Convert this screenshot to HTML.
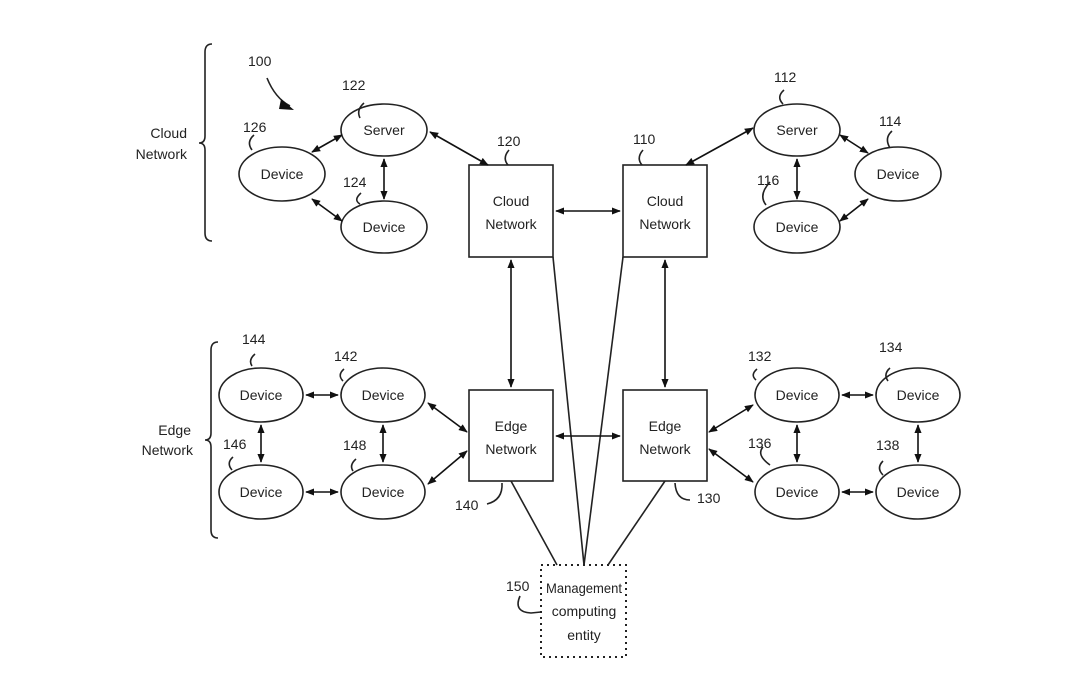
<!DOCTYPE html>
<html><head><meta charset="utf-8"><style>
html,body{margin:0;padding:0;background:#fff;}
svg{display:block}
text{font-family:"Liberation Sans","DejaVu Sans",sans-serif;font-size:14px;fill:#222;}
</style></head><body>
<svg width="1080" height="692" viewBox="0 0 1080 692" xmlns="http://www.w3.org/2000/svg">
<defs>
<marker id="a" viewBox="0 0 10 10" refX="9" refY="5" markerWidth="9" markerHeight="9" orient="auto-start-reverse" markerUnits="userSpaceOnUse"><path d="M0,1 L10,5 L0,9 Z" fill="#111"/></marker>
</defs>
<g fill="none" stroke="#222" stroke-width="1.6">
<path d="M212,44 Q205,44 205,52 L205,136 Q205,143 199,143 Q205,143 205,150 L205,233 Q205,241 212,241"/>
<path d="M218,342 Q211,342 211,350 L211,433 Q211,440 205,440 Q211,440 211,447 L211,530 Q211,538 218,538"/>
<rect x="469" y="165" width="84" height="92"/>
<rect x="623" y="165" width="84" height="92"/>
<rect x="469" y="390" width="84" height="91"/>
<rect x="623" y="390" width="84" height="91"/>
<rect x="541" y="565" width="85" height="92" stroke-dasharray="2,4" stroke-width="2"/>
<ellipse cx="384" cy="130" rx="43" ry="26"/>
<ellipse cx="282" cy="174" rx="43" ry="27"/>
<ellipse cx="384" cy="227" rx="43" ry="26"/>
<ellipse cx="797" cy="130" rx="43" ry="26"/>
<ellipse cx="898" cy="174" rx="43" ry="27"/>
<ellipse cx="797" cy="227" rx="43" ry="26"/>
<ellipse cx="261" cy="395" rx="42" ry="27"/>
<ellipse cx="383" cy="395" rx="42" ry="27"/>
<ellipse cx="261" cy="492" rx="42" ry="27"/>
<ellipse cx="383" cy="492" rx="42" ry="27"/>
<ellipse cx="797" cy="395" rx="42" ry="27"/>
<ellipse cx="918" cy="395" rx="42" ry="27"/>
<ellipse cx="797" cy="492" rx="42" ry="27"/>
<ellipse cx="918" cy="492" rx="42" ry="27"/>
<line x1="553" y1="257" x2="584" y2="565"/>
<line x1="623" y1="257" x2="584" y2="565"/>
<line x1="511" y1="481" x2="557" y2="565"/>
<line x1="665" y1="481" x2="608" y2="565"/>
<path d="M267,78 Q275,98 290,106"/>
<path d="M364,103 Q356,110 360,118"/>
<path d="M254,135 Q246,142 252,150"/>
<path d="M509,150 Q502,158 508,165"/>
<path d="M361,193 Q353,200 360,204"/>
<path d="M643,150 Q636,158 642,165"/>
<path d="M784,90 Q776,97 783,104"/>
<path d="M892,131 Q884,138 890,148"/>
<path d="M770,182 Q758,195 766,205"/>
<path d="M255,354 Q248,360 252,366"/>
<path d="M344,369 Q337,375 343,381"/>
<path d="M233,457 Q226,463 232,470"/>
<path d="M356,459 Q349,465 353,471"/>
<path d="M757,369 Q750,375 756,380"/>
<path d="M890,368 Q883,374 888,381"/>
<path d="M763,447 Q756,455 770,465"/>
<path d="M883,461 Q876,468 883,475"/>
<path d="M502,483 Q503,500 487,504"/>
<path d="M675,483 Q676,500 690,500"/>
<path d="M520,596 Q513,612 531,613 L541,612"/>
</g>
<path d="M281,99 L294,110 L279,109 Z" fill="#111"/>
<g stroke="#111" stroke-width="1.6" marker-start="url(#a)" marker-end="url(#a)">
<line x1="430" y1="132" x2="488" y2="165"/>
<line x1="686" y1="165" x2="753" y2="128"/>
<line x1="556" y1="211" x2="620" y2="211"/>
<line x1="556" y1="436" x2="620" y2="436"/>
<line x1="511" y1="260" x2="511" y2="387"/>
<line x1="665" y1="260" x2="665" y2="387"/>
<line x1="312" y1="152" x2="342" y2="135"/>
<line x1="384" y1="159" x2="384" y2="199"/>
<line x1="312" y1="199" x2="342" y2="221"/>
<line x1="840" y1="135" x2="868" y2="153"/>
<line x1="797" y1="159" x2="797" y2="199"/>
<line x1="840" y1="221" x2="868" y2="199"/>
<line x1="306" y1="395" x2="338" y2="395"/>
<line x1="306" y1="492" x2="338" y2="492"/>
<line x1="261" y1="425" x2="261" y2="462"/>
<line x1="383" y1="425" x2="383" y2="462"/>
<line x1="428" y1="403" x2="467" y2="432"/>
<line x1="428" y1="484" x2="467" y2="451"/>
<line x1="709" y1="432" x2="753" y2="405"/>
<line x1="709" y1="449" x2="753" y2="482"/>
<line x1="842" y1="395" x2="873" y2="395"/>
<line x1="842" y1="492" x2="873" y2="492"/>
<line x1="797" y1="425" x2="797" y2="462"/>
<line x1="918" y1="425" x2="918" y2="462"/>
</g>
<g text-anchor="middle">
<text x="384" y="135">Server</text>
<text x="282" y="179">Device</text>
<text x="384" y="232">Device</text>
<text x="797" y="135">Server</text>
<text x="898" y="179">Device</text>
<text x="797" y="232">Device</text>
<text x="261" y="400">Device</text>
<text x="383" y="400">Device</text>
<text x="261" y="497">Device</text>
<text x="383" y="497">Device</text>
<text x="797" y="400">Device</text>
<text x="918" y="400">Device</text>
<text x="797" y="497">Device</text>
<text x="918" y="497">Device</text>
<text x="511" y="206">Cloud</text><text x="511" y="229">Network</text>
<text x="665" y="206">Cloud</text><text x="665" y="229">Network</text>
<text x="511" y="431">Edge</text><text x="511" y="454">Network</text>
<text x="665" y="431">Edge</text><text x="665" y="454">Network</text>
<text x="584" y="593" textLength="76" lengthAdjust="spacingAndGlyphs">Management</text>
<text x="584" y="616">computing</text>
<text x="584" y="640">entity</text>
</g>
<g text-anchor="end">
<text x="187" y="138">Cloud</text><text x="187" y="159">Network</text>
<text x="191" y="435">Edge</text><text x="193" y="455">Network</text>
</g>
<g>
<text x="248" y="66">100</text>
<text x="342" y="90">122</text>
<text x="243" y="132">126</text>
<text x="497" y="146">120</text>
<text x="343" y="187">124</text>
<text x="633" y="144">110</text>
<text x="774" y="82">112</text>
<text x="879" y="126">114</text>
<text x="757" y="185">116</text>
<text x="242" y="344">144</text>
<text x="334" y="361">142</text>
<text x="223" y="449">146</text>
<text x="343" y="450">148</text>
<text x="748" y="361">132</text>
<text x="879" y="352">134</text>
<text x="748" y="448">136</text>
<text x="876" y="450">138</text>
<text x="455" y="510">140</text>
<text x="697" y="503">130</text>
<text x="506" y="591">150</text>
</g>
</svg>
</body></html>
